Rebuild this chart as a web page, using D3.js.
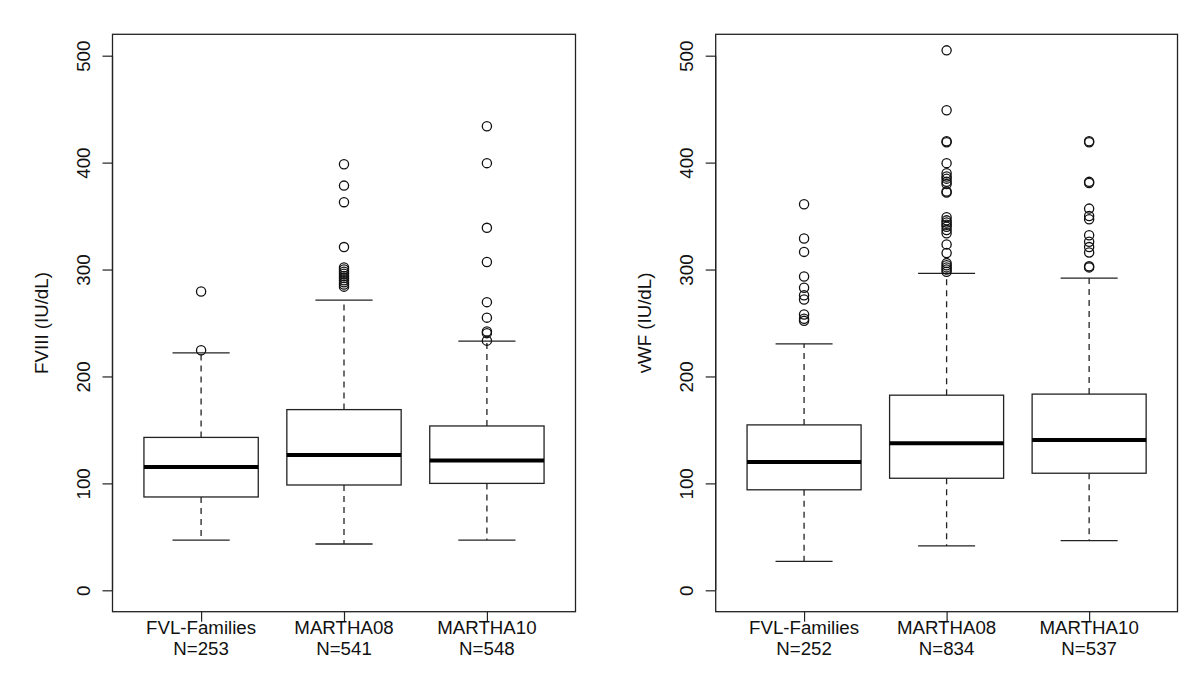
<!DOCTYPE html>
<html><head><meta charset="utf-8">
<script src="https://cdn.jsdelivr.net/npm/d3@7"></script>
<style>
html,body{margin:0;padding:0;background:#fff;}
svg{display:block;font-family:"Liberation Sans",Arial,Helvetica,sans-serif;}
</style></head>
<body>
<svg id="chart" width="1200" height="692"></svg>
<script>
// ---- data ----
const categories = ["FVL-Families", "MARTHA08", "MARTHA10"];
const yTicks = [0, 100, 200, 300, 400, 500];

// FVIII panel: [lower whisker, Q1, median, Q3, upper whisker]
const fviiiLabel = "FVIII (IU/dL)";
const fviiiN = [253, 541, 548];
const fviiiStats = [
  [47, 87.3, 115.4, 143, 222],
  [43.3, 98.5, 126.6, 169, 271.4],
  [47, 100, 121.5, 153.7, 233]
];
const fviiiOutliers = [
  [224.5, 279.5],
  [398.5, 378.5, 363, 321, 302, 300, 298, 296, 294, 292, 290, 288, 286, 284],
  [434, 399.5, 339, 307, 269.5, 255, 242, 240.5, 233.5]
];

// vWF panel
const vwfLabel = "vWF (IU/dL)";
const vwfN = [252, 834, 537];
const vwfStats = [
  [27, 94, 120, 154.7, 230.5],
  [41.5, 104.8, 137.5, 182.5, 296.5],
  [46.5, 109.5, 140.5, 183.5, 292]
];
const vwfOutliers = [
  [361, 329, 316.5, 293.5, 283, 276, 272, 258, 254, 252],
  [505, 449, 420, 419, 399.5, 390, 387, 385, 382, 380, 373, 372, 349, 346, 344, 342, 340, 337, 334, 323.5, 315.5, 306, 304, 302, 300, 298],
  [420, 419, 382, 381, 357, 350, 347, 332, 326, 321, 316, 303, 302]
];

// ---- drawing ----
const svg = d3.select("#chart");
const INK = "#222";
const FS = 18.7;
const plotTop = 34.3, plotBottom = 611.7;

function panel(left, right, label, nVals, stats, outliers) {
  const g = svg.append("g");
  const x = d3.scaleLinear().domain([0.38, 3.62]).range([left, right]);
  const y = d3.scaleLinear().domain([-20, 520]).range([plotBottom, plotTop]);
  const bw = x(1.8) - x(1);          // box width 0.8
  const sw = bw / 2;                  // staple width (staplewex 0.5)

  // y axis
  const yAxis = d3.axisLeft(y).tickValues(yTicks).tickSize(10).tickPadding(0).tickFormat(d3.format("d"));
  const ya = g.append("g").attr("transform", `translate(${left},0)`).call(yAxis);
  ya.select(".domain").attr("d", `M0,${y(0)}V${y(500)}`).attr("stroke", INK).attr("stroke-width", 1.2);
  ya.selectAll(".tick line").attr("stroke", INK).attr("stroke-width", 1.2);
  ya.selectAll(".tick text")
    .attr("x", null).attr("dy", null)
    .attr("transform", "translate(-23,0) rotate(-90)")
    .attr("text-anchor", "middle")
    .attr("font-size", FS).attr("fill", "#111")
    .attr("font-family", "'Liberation Sans',Arial,sans-serif");

  // x axis ticks
  const xAxis = d3.axisBottom(x).tickValues([1, 2, 3]).tickSize(10).tickFormat("");
  const xa = g.append("g").attr("transform", `translate(0,${plotBottom})`).call(xAxis);
  xa.select(".domain").remove();
  xa.selectAll(".tick line").attr("stroke", INK).attr("stroke-width", 1.2);

  // category labels
  categories.forEach((c, i) => {
    const t = g.append("text").attr("x", x(i + 1)).attr("text-anchor", "middle")
      .attr("font-size", FS).attr("fill", "#111");
    t.append("tspan").attr("x", x(i + 1)).attr("y", 634).text(c);
    t.append("tspan").attr("x", x(i + 1)).attr("y", 655).text("N=" + nVals[i]);
  });

  // y label
  g.append("text")
    .attr("transform", `translate(${left - 64.5},${(plotTop + plotBottom) / 2}) rotate(-90)`)
    .attr("text-anchor", "middle").attr("font-size", FS).attr("fill", "#111")
    .text(label);

  // boxes
  stats.forEach((s, i) => {
    const cx = x(i + 1);
    const [lo, q1, med, q3, hi] = s;
    const bg = g.append("g");
    bg.append("line").attr("x1", cx).attr("x2", cx).attr("y1", y(q3)).attr("y2", y(hi))
      .attr("stroke", INK).attr("stroke-width", 1.3).attr("stroke-dasharray", "6,5");
    bg.append("line").attr("x1", cx).attr("x2", cx).attr("y1", y(q1)).attr("y2", y(lo))
      .attr("stroke", INK).attr("stroke-width", 1.3).attr("stroke-dasharray", "6,5");
    [lo, hi].forEach(v => {
      bg.append("line").attr("x1", cx - sw / 2).attr("x2", cx + sw / 2)
        .attr("y1", y(v)).attr("y2", y(v))
        .attr("stroke", INK).attr("stroke-width", 1.3);
    });
    bg.append("rect").attr("x", cx - bw / 2).attr("width", bw)
      .attr("y", y(q3)).attr("height", y(q1) - y(q3))
      .attr("fill", "#fff").attr("stroke", INK).attr("stroke-width", 1.3);
    bg.append("line").attr("x1", cx - bw / 2).attr("x2", cx + bw / 2)
      .attr("y1", y(med)).attr("y2", y(med))
      .attr("stroke", "#000").attr("stroke-width", 4);
    bg.selectAll("circle.o").data(outliers[i]).join("circle").attr("class", "o")
      .attr("cx", cx).attr("cy", d => y(d)).attr("r", 4.6)
      .attr("fill", "none").attr("stroke", "#111").attr("stroke-width", 1.3);
  });

  // frame
  g.append("rect").attr("x", left).attr("y", plotTop).attr("width", right - left).attr("height", plotBottom - plotTop)
    .attr("fill", "none").attr("stroke", INK).attr("stroke-width", 1.3);
}

panel(112.5, 575.5, fviiiLabel, fviiiN, fviiiStats, fviiiOutliers);
panel(715.7, 1177.5, vwfLabel, vwfN, vwfStats, vwfOutliers);
</script>
</body></html>
